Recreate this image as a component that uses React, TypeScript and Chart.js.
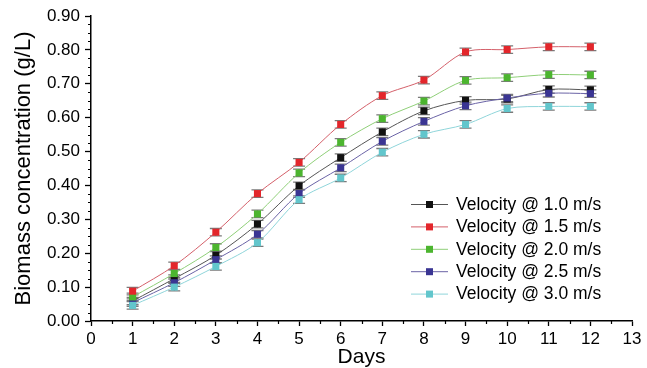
import React, { useEffect, useRef } from "react";
import { Chart, registerables } from "chart.js";

Chart.register(...registerables);

const days = [1, 2, 3, 4, 5, 6, 7, 8, 9, 10, 11, 12];
const xTicks = [0, 1, 2, 3, 4, 5, 6, 7, 8, 9, 10, 11, 12, 13];
const yTicks = [0, 0.1, 0.2, 0.3, 0.4, 0.5, 0.6, 0.7, 0.8, 0.9];

const vel10 = [0.059, 0.125, 0.194, 0.286, 0.399, 0.482, 0.558, 0.62, 0.651, 0.655, 0.683, 0.682];
const vel15 = [0.088, 0.163, 0.262, 0.376, 0.468, 0.58, 0.665, 0.711, 0.794, 0.801, 0.809, 0.809];
const vel20 = [0.071, 0.14, 0.217, 0.316, 0.437, 0.527, 0.597, 0.649, 0.71, 0.718, 0.727, 0.726];
const vel25 = [0.054, 0.113, 0.181, 0.256, 0.376, 0.452, 0.53, 0.589, 0.635, 0.658, 0.672, 0.671];
const vel30 = [0.046, 0.1, 0.161, 0.231, 0.358, 0.422, 0.498, 0.551, 0.58, 0.627, 0.633, 0.633];
const errorValues = [0.011, 0.011, 0.011, 0.011, 0.011, 0.011, 0.011, 0.011, 0.011, 0.011, 0.011, 0.011];

const seriesLabels = [
  "Velocity @ 1.0 m/s",
  "Velocity @ 1.5 m/s",
  "Velocity @ 2.0 m/s",
  "Velocity @ 2.5 m/s",
  "Velocity @ 3.0 m/s",
];
const seriesValues = [vel10, vel15, vel20, vel25, vel30];
const markerColors = ["#111111", "#e3262b", "#4cb52f", "#3a3593", "#62c6cc"];
const lineColors = ["#555555", "#d4606a", "#8fcf78", "#6a63a6", "#8fd5da"];
const drawOrder = [2, 0, 0, 1, 0];

const FONT = "'Liberation Sans', Arial, sans-serif";

const errorBarPlugin = {
  id: "errorBars",
  beforeDatasetsDraw(chart: any) {
    const ctx = chart.ctx;
    const ys = chart.scales.y;
    ctx.save();
    ctx.strokeStyle = "#7a7a7a";
    ctx.lineWidth = 1.3;
    chart.data.datasets.forEach((ds: any, di: number) => {
      const meta = chart.getDatasetMeta(di);
      meta.data.forEach((pt: any, i: number) => {
        const v = ds.data[i].y;
        const e = errorValues[i];
        const yTop = ys.getPixelForValue(v + e);
        const yBot = ys.getPixelForValue(v - e);
        const x = pt.x;
        ctx.beginPath();
        ctx.moveTo(x, yTop);
        ctx.lineTo(x, yBot);
        ctx.moveTo(x - 6, yTop);
        ctx.lineTo(x + 6, yTop);
        ctx.moveTo(x - 6, yBot);
        ctx.lineTo(x + 6, yBot);
        ctx.stroke();
      });
    });
    ctx.restore();
  },
};

const minorTickPlugin = {
  id: "minorTicks",
  afterDraw(chart: any) {
    const ctx = chart.ctx;
    const xs = chart.scales.x;
    const ys = chart.scales.y;
    const area = chart.chartArea;
    ctx.save();
    ctx.strokeStyle = "#000";
    ctx.lineWidth = 1.2;
    ctx.beginPath();
    for (let k = 0; k < yTicks.length - 1; k++) {
      for (let m = 1; m < 4; m++) {
        const v = yTicks[k] + (m * (yTicks[k + 1] - yTicks[k])) / 4;
        const py = Math.round(ys.getPixelForValue(v)) + 0.5;
        ctx.moveTo(area.left, py);
        ctx.lineTo(area.left - 3, py);
      }
    }
    for (let k = 0; k < xTicks.length - 1; k++) {
      const v = (xTicks[k] + xTicks[k + 1]) / 2;
      const px = Math.round(xs.getPixelForValue(v)) + 0.5;
      ctx.moveTo(px, area.bottom);
      ctx.lineTo(px, area.bottom + 3);
    }
    ctx.stroke();
    ctx.restore();
  },
};

const legendPlugin = {
  id: "customLegend",
  afterDraw(chart: any) {
    const ctx = chart.ctx;
    const x0 = 411;
    const x1 = 448;
    const xm = 429.5;
    const textX = 456;
    const rowY = 204;
    const step = 22.4;
    ctx.save();
    ctx.font = `17.5px ${FONT}`;
    ctx.textBaseline = "middle";
    ctx.textAlign = "left";
    seriesLabels.forEach((label, i) => {
      const y = rowY + i * step;
      ctx.strokeStyle = lineColors[i];
      ctx.lineWidth = 1;
      ctx.beginPath();
      ctx.moveTo(x0, y + 0.5);
      ctx.lineTo(x1, y + 0.5);
      ctx.stroke();
      ctx.fillStyle = markerColors[i];
      ctx.fillRect(xm - 3.5, y - 3, 7, 7);
      ctx.fillStyle = "#000";
      ctx.fillText(label, textX, y + 1);
    });
    ctx.restore();
  },
};

export default function App() {
  const ref = useRef<HTMLCanvasElement>(null);

  useEffect(() => {
    if (!ref.current) return;
    const datasets = seriesValues.map((vals, i) => ({
      label: seriesLabels[i],
      data: days.map((d, j) => ({ x: d, y: vals[j] })),
      borderColor: lineColors[i],
      backgroundColor: markerColors[i],
      borderWidth: 1,
      pointStyle: "rect",
      pointRadius: 5,
      pointBorderWidth: 0,
      pointBorderColor: markerColors[i],
      pointBackgroundColor: markerColors[i],
      tension: 0.3,
      fill: false,
      order: drawOrder[i],
    }));

    const chart = new Chart(ref.current, {
      type: "line",
      data: { datasets },
      plugins: [errorBarPlugin, minorTickPlugin, legendPlugin],
      options: {
        animation: false,
        responsive: false,
        devicePixelRatio: 1,
        layout: { padding: { top: 16, right: 15, bottom: 0, left: 0 } },
        plugins: {
          legend: { display: false },
          tooltip: { enabled: false },
        },
        scales: {
          x: {
            type: "linear",
            min: 0,
            max: 13,
            afterFit(scale: any) {
              scale.height = 47;
            },
            ticks: {
              stepSize: 1,
              color: "#000",
              padding: 3,
              font: { family: FONT, size: 17 },
              callback: (v: any) => String(v),
            },
            grid: {
              display: true,
              drawOnChartArea: false,
              drawTicks: true,
              tickLength: 5,
              tickWidth: 1.3,
              tickColor: "#000",
            },
            border: { display: true, color: "#000", width: 1.5 },
            title: {
              display: true,
              text: "Days",
              color: "#000",
              font: { family: FONT, size: 21 },
              padding: { top: 0, bottom: -2 },
            },
          },
          y: {
            type: "linear",
            min: 0,
            max: 0.9,
            afterFit(scale: any) {
              scale.width = 91;
            },
            ticks: {
              stepSize: 0.1,
              color: "#000",
              padding: 5,
              font: { family: FONT, size: 17 },
              callback: (v: any) => Number(v).toFixed(2),
            },
            grid: {
              display: true,
              drawOnChartArea: false,
              drawTicks: true,
              tickLength: 6,
              tickWidth: 1.3,
              tickColor: "#000",
            },
            border: { display: true, color: "#000", width: 1.5 },
            title: {
              display: true,
              text: "Biomass concentration (g/L)",
              color: "#000",
              font: { family: FONT, size: 22 },
              padding: { top: 11, bottom: 0 },
            },
          },
        },
      },
    } as any);
    return () => chart.destroy();
  }, []);

  return (
    <div style={{ position: "absolute", left: 0, top: 0, width: 647, height: 368, background: "#fff" }}>
      <canvas ref={ref} width={647} height={368} style={{ width: 647, height: 368 }} />
    </div>
  );
}
